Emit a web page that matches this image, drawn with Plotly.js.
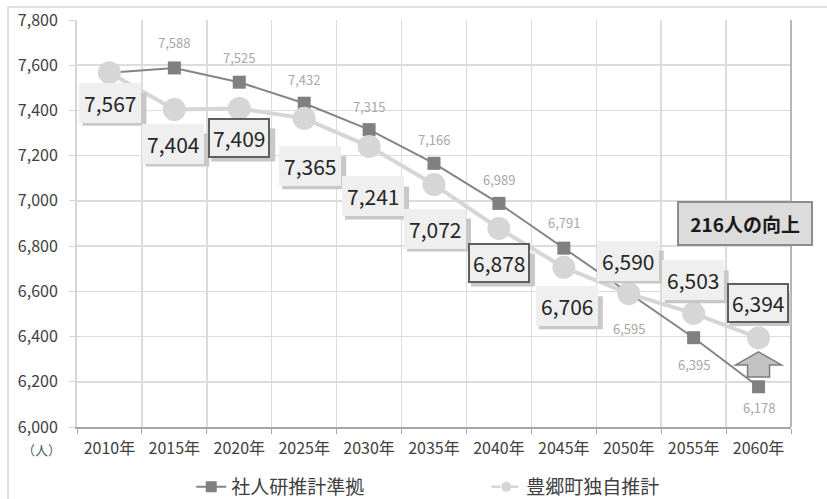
<!DOCTYPE html>
<html><head><meta charset="utf-8">
<script src="https://cdn.plot.ly/plotly-3.0.1.min.js"></script>
<style>html,body{margin:0;padding:0;background:#fff;}#chart{width:827px;height:499px;}</style>
</head><body><div id="chart"></div>
<script>
// ---- data ----
const years = ['2010年','2015年','2020年','2025年','2030年','2035年','2040年','2045年','2050年','2055年','2060年'];
const ipssName = '社人研推計準拠';
const ownName = '豊郷町独自推計';
const ipssValues = [7567, 7588, 7525, 7432, 7315, 7166, 6989, 6791, 6595, 6395, 6178];
const ownValues  = [7567, 7404, 7409, 7365, 7241, 7072, 6878, 6706, 6590, 6503, 6394];
const gainText = '216人の向上';
const unitText = '（人）';
const yTicks = [6000, 6200, 6400, 6600, 6800, 7000, 7200, 7400, 7600, 7800];

// ---- label placement (pixels, styling only) ----
const ownLabelShift = [[1,30],[-1,34],[0,30],[6,48],[4,50],[1,44],[0,35],[3,39],[-1,-33],[-1,-33],[-1,-35]];
const ownHighlight = [false,false,true,false,false,false,true,false,false,false,true];
const ipssLabelShift = [null,-25,-25,-24,-23,-24,-24,-26,36,27,21];

const fmt = v => v.toLocaleString('en-US');
const FONT = '"Noto Sans CJK JP", "Noto Sans", sans-serif';

const traces = [
  {
    x: years, y: ipssValues, name: ipssName, type: 'scatter', mode: 'lines+markers',
    line: {color: '#858585', width: 2},
    marker: {symbol: 'square', size: 13, color: '#808080'},
    hoverinfo: 'skip', showlegend: false
  },
  {
    x: years, y: ownValues, name: ownName, type: 'scatter', mode: 'lines+markers',
    line: {color: '#d6d6d6', width: 4},
    marker: {symbol: 'circle', size: 23, color: '#d6d6d6'},
    hoverinfo: 'skip', showlegend: false
  },
  // legend entries (no data)
  {
    x: [null], y: [null], name: ipssName, type: 'scatter', mode: 'lines+markers',
    line: {color: '#858585', width: 2}, marker: {symbol: 'square', size: 11, color: '#808080'}
  },
  {
    x: [null], y: [null], name: ownName, type: 'scatter', mode: 'lines+markers',
    line: {color: '#d6d6d6', width: 2.5, dash: 'dash'}, marker: {symbol: 'circle', size: 10, color: '#d6d6d6'}
  }
];

const shapes = [
  {type: 'line', xref: 'paper', yref: 'paper', x0: 1, x1: 1, y0: 0, y1: 1, line: {color: '#b5b5b5', width: 2}},
  {type: 'rect', xref: 'paper', yref: 'paper', x0: -0.0966, x1: 1.2, y0: -0.3, y1: 1.032, line: {color: '#d9d9d9', width: 1.5}}
];
// shadows behind boxed labels
years.forEach((yr, i) => {
  const s = ownLabelShift[i];
  shapes.push({
    type: 'rect', xref: 'x', yref: 'y', xsizemode: 'pixel', ysizemode: 'pixel',
    xanchor: yr, yanchor: ownValues[i],
    x0: s[0] - 28, x1: s[0] + 36, y0: -(s[1] + 23), y1: -(s[1] - 10),
    fillcolor: '#c8c8c8', line: {width: 0}
  });
});
// arrow from IPSS value up to own estimate in last year
const last = years.length - 1;
shapes.push({
  type: 'path', xref: 'x', yref: 'y', xsizemode: 'pixel', ysizemode: 'pixel',
  xanchor: years[last], yanchor: ownValues[last],
  path: 'M0,-14 L23,-27 L11,-27 L11,-39 L-11,-39 L-11,-27 L-23,-27 Z',
  fillcolor: '#c2c2c2', line: {color: '#7c7c7c', width: 1.5}
});

const annotations = [];
years.forEach((yr, i) => {
  const s = ownLabelShift[i];
  annotations.push({
    x: yr, y: ownValues[i], xref: 'x', yref: 'y', showarrow: false,
    text: fmt(ownValues[i]), xshift: s[0], yshift: -s[1],
    font: {family: FONT, size: 21, color: '#262626'},
    bgcolor: '#efefef', bordercolor: ownHighlight[i] ? '#5f5f5f' : '#efefef',
    borderwidth: 2, borderpad: 3
  });
});
years.forEach((yr, i) => {
  if (ipssLabelShift[i] === null) return;
  annotations.push({
    x: yr, y: ipssValues[i], xref: 'x', yref: 'y', showarrow: false,
    text: fmt(ipssValues[i]), yshift: -ipssLabelShift[i],
    font: {family: FONT, size: 13, color: '#a8a8a8'}
  });
});
// gain box
annotations.push({
  xref: 'paper', yref: 'paper', x: 0.9356, y: 0.5, xanchor: 'center', yanchor: 'middle',
  showarrow: false, text: '&nbsp;' + gainText + '&nbsp;',
  font: {family: FONT, size: 19, color: '#1a1a1a', weight: 'bold'},
  bgcolor: '#dcdcdc', bordercolor: '#8c8c8c', borderwidth: 2, borderpad: 7
});
// unit
annotations.push({
  xref: 'paper', yref: 'paper', x: -0.05, y: -0.055, xanchor: 'center', yanchor: 'middle',
  showarrow: false, text: unitText, font: {family: FONT, size: 13, color: '#595959'}
});

const layout = {
  width: 827, height: 499,
  margin: {l: 77, r: 36, t: 20, b: 72},
  paper_bgcolor: '#ffffff', plot_bgcolor: '#ffffff',
  font: {family: FONT, color: '#404040'},
  showlegend: true,
  legend: {
    orientation: 'h', x: 0.16, xanchor: 'left', yref: 'container', y: 0.024, yanchor: 'middle',
    font: {family: FONT, size: 19, color: '#404040'}, entrywidth: 250, itemwidth: 30
  },
  xaxis: {
    type: 'category', range: [-0.5, years.length - 0.5],
    showline: true, linecolor: '#a6a6a6', linewidth: 2,
    ticks: 'outside', ticklen: 5, tickcolor: '#a6a6a6', tickson: 'boundaries',
    showgrid: true, gridcolor: '#dcdcdc', gridwidth: 1.5,
    tickfont: {family: FONT, size: 16, color: '#404040'}, ticklabelstandoff: 6, fixedrange: true
  },
  yaxis: {
    range: [6000, 7800], tickvals: yTicks, ticktext: yTicks.map(fmt),
    showline: true, linecolor: '#d6d6d6', linewidth: 2,
    ticks: 'outside', ticklen: 6, tickcolor: '#d6d6d6',
    showgrid: true, gridcolor: '#dcdcdc', gridwidth: 1.5, zeroline: false,
    tickfont: {family: FONT, size: 16, color: '#404040'}, ticklabelstandoff: 8, fixedrange: true
  },
  shapes: shapes,
  annotations: annotations
};

Plotly.newPlot('chart', traces, layout, {displayModeBar: false, staticPlot: true});
</script></body></html>
